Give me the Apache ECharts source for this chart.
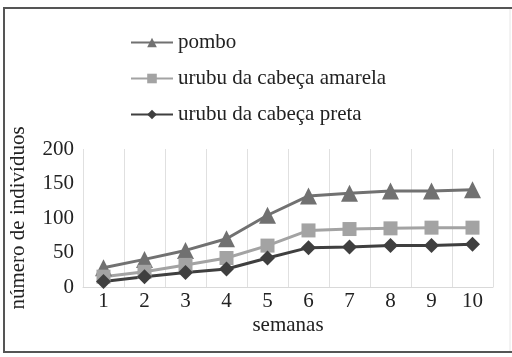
<!DOCTYPE html>
<html>
<head>
<meta charset="utf-8">
<script src="https://cdn.jsdelivr.net/npm/echarts@6/dist/echarts.min.js"></script>
<style>html,body{margin:0;padding:0;background:#fff;}#c{width:512px;height:357px;}</style>
</head>
<body>
<div id="c"></div>
<script>
const semanas = ['1','2','3','4','5','6','7','8','9','10'];
const pombo = [28, 40, 53, 70, 104, 132, 136, 139, 139, 141];
const urubuAmarela = [15, 22, 32, 42, 60, 82, 84, 85, 86, 86];
const urubuPreta = [8, 15, 21, 26, 42, 57, 58, 60, 60, 62];
const yTicks = [0, 50, 100, 150, 200];

const font = 'Liberation Serif, Times New Roman, serif';
const chart = echarts.init(document.getElementById('c'), null, {renderer: 'canvas'});
chart.setOption({
  animation: false,
  backgroundColor: '#fff',
  textStyle: {fontFamily: font},
  legend: {
    orient: 'vertical', left: 125, top: 27, itemWidth: 42, itemHeight: 12, itemGap: 15,
    textStyle: {fontFamily: font, fontSize: 21, color: '#222'},
    data: ['pombo', 'urubu da cabeça amarela', 'urubu da cabeça preta']
  },
  grid: {left: 81, right: 19, top: 149, bottom: 70},
  xAxis: {
    type: 'category', data: semanas, boundaryGap: true,
    name: 'semanas', nameLocation: 'middle', nameGap: 28,
    nameTextStyle: {fontFamily: font, fontSize: 21, color: '#222'},
    axisLine: {lineStyle: {color: '#d9d9d9', width: 1}},
    axisTick: {show: false},
    axisLabel: {fontFamily: font, fontSize: 21, color: '#222', margin: 4},
    splitLine: {show: true, interval: 0, lineStyle: {color: '#e0e0e0', width: 1}}
  },
  yAxis: {
    type: 'value', min: yTicks[0], max: yTicks[yTicks.length - 1], interval: 50,
    name: 'número de indivíduos', nameLocation: 'middle', nameGap: 54,
    nameTextStyle: {fontFamily: font, fontSize: 21, color: '#222'},
    axisLine: {show: false}, axisTick: {show: false},
    axisLabel: {fontFamily: font, fontSize: 21, color: '#222', margin: 9},
    splitLine: {show: false}
  },
  series: [
    {name: 'pombo', type: 'line', data: pombo, symbol: 'triangle', symbolSize: 17,
     lineStyle: {color: '#717171', width: 3}, itemStyle: {color: '#717171'}},
    {name: 'urubu da cabeça amarela', type: 'line', data: urubuAmarela, symbol: 'rect', symbolSize: 14,
     lineStyle: {color: '#a3a3a3', width: 3}, itemStyle: {color: '#a3a3a3'}},
    {name: 'urubu da cabeça preta', type: 'line', data: urubuPreta, symbol: 'diamond', symbolSize: 15,
     lineStyle: {color: '#3f3f3f', width: 3}, itemStyle: {color: '#3f3f3f'}}
  ],
  graphic: [
    {type: 'line', shape: {x1: 3, y1: 8, x2: 512, y2: 8}, style: {stroke: '#555', lineWidth: 2}},
    {type: 'line', shape: {x1: 4, y1: 7, x2: 4, y2: 353}, style: {stroke: '#555', lineWidth: 2}},
    {type: 'line', shape: {x1: 3, y1: 352, x2: 512, y2: 352}, style: {stroke: '#555', lineWidth: 2}},
    {type: 'line', shape: {x1: 510, y1: 9, x2: 510, y2: 351}, style: {stroke: '#e6e6e6', lineWidth: 1}}
  ]
});
</script>
</body>
</html>
